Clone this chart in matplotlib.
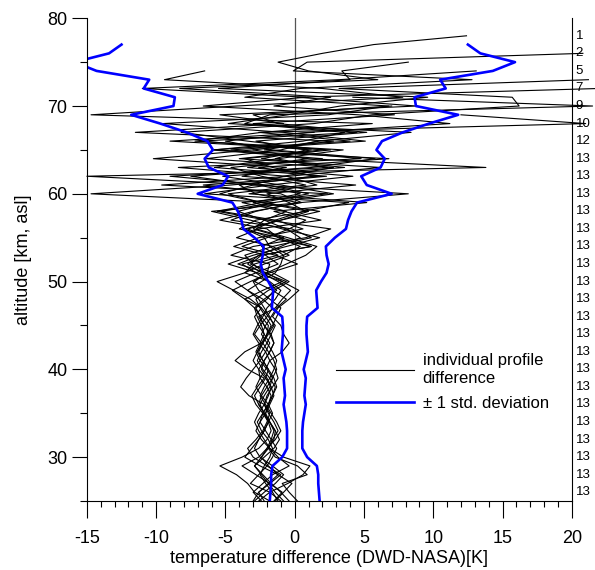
import matplotlib
matplotlib.use('Agg')
import matplotlib.pyplot as plt
from matplotlib.ticker import MultipleLocator
from matplotlib.transforms import blended_transform_factory
import numpy as np

plt.rcParams['font.family'] = ['Liberation Sans', 'DejaVu Sans']
plt.rcParams['axes.unicode_minus'] = False

# ---------------------------------------------------------------------
# Datos (altitud desde 25 km, paso de 1 km)
# ---------------------------------------------------------------------
alt_base = 25

# perfiles individuales DWD-NASA [K]
p01 = [-1.2, -1.6, -2.1, -2.5, -2.2, -1.8, -1.6, -1.9, -2.4, -2.7,
       -2.3, -1.9, -1.7, -2.0, -2.5, -2.6, -2.2, -1.8, -1.5, -1.7,
       -2.2, -2.6,
       -1.4, -0.9, -0.3, -1.2, -2.4, -3.4, -2.6, -1.0, 0.4, -0.6,
       -2.2, -4.1, -1.5,
       2.8, -1.0, -5.2, 3.6, -2.4, 1.2, -6.8, 4.5, -3.0, 7.2,
       -1.5, 2.6, -8.3, 6.0, 1.0, -1.2, 2.0, 5.7, 12.4]
p02 = [-0.4, -1.0, -1.7, -2.3, -2.9, -2.4, -1.9, -1.5, -1.4, -1.8,
       -2.2, -2.6, -2.4, -2.0, -1.6, -1.3, -1.5, -1.9, -2.3, -2.0,
       -1.6, -1.3,
       -1.0, -1.8, -2.6, -3.0, -2.0, -0.6, 0.8, 1.6, -0.5, -2.8,
       -1.4, 0.6, 3.9,
       -6.5, -1.8, 4.2, -3.4, 0.9, -4.6, 5.1, -0.8, -9.5, 2.4,
       6.8, -3.6, 0.4, 12.8, -0.1, 0.9, 20.8]
p03 = [-2.6, -1.8, -0.5, 0.6, 1.1, -0.8, -1.8, -2.4, -2.8, -2.5,
       -2.1, -1.8, -1.5, -1.7, -2.1, -2.6, -3.0, -2.7, -2.3, -2.0,
       -1.9, -2.4,
       -2.9, -3.6, -4.5, -3.2, -1.8, 0.2, -1.4, -3.8, -2.0, -0.4,
       0.8, -1.5, 5.2,
       -3.3, 1.6, -0.6, -8.4, 4.8, -2.2, 1.8, 8.4, -4.8, -0.5,
       3.3, 9.6, -5.5, 4.0, 3.4, 8.2]
p04 = [-1.8, -2.9, -3.4, -4.2, -5.4, -3.8, -2.6, -2.0, -1.7, -1.9,
       -2.3, -2.8, -3.1, -2.7, -2.2, -3.4, -4.3, -3.6, -2.4, -2.9,
       -2.5, -2.0,
       -1.6, -2.3, -3.4, -4.3, -2.8, -1.2, -2.1, -4.4, -2.6, 0.6,
       -1.4, -5.3, -1.4,
       -14.7, -4.6, 2.3, -5.8, -1.2, 3.5, -7.2, -2.4, 5.6, -14.7,
       -4.2, 7.8, 2.0, -9.4, -6.5]
p05 = [0.2, -0.4, -0.9, 0.9, 0.2, -1.4, -1.9, -1.6, -1.2, -1.5,
       -1.9, -2.2, -2.0, -1.6, -1.2, -1.4, -1.8, -0.9, -0.4, -0.8,
       -1.0, -1.6,
       -1.2, -0.4, 0.3, -0.9, -2.7, -4.8, -3.0, -0.6, 1.8, -0.9,
       -3.2, -6.0, 0.4,
       8.2, -2.9, -7.5, 1.2, 5.8, -1.6, -5.0, 1.0, 11.2, 4.6,
       -6.6, 0.8, -11.0, 3.2, 13.1]
p06 = [-2.2, -2.6, -1.8, -1.0, -2.0, -3.0, -3.4, -2.8, -2.3, -2.0,
       -1.8, -2.2, -3.3, -3.9, -3.5, -3.0, -2.5, -2.1, -1.8, -2.2,
       -2.6, -2.9,
       -2.4, -3.2, -4.4, -5.6, -3.6, -2.2, -0.4, -1.6, -4.2, -2.6,
       1.9, -0.8, -3.8,
       2.4, -9.6, -0.4, 6.2, -4.0, 2.0, -3.4, -8.2, 1.4, 5.6,
       16.2, 15.7, 3.2, 21.2]
p07 = [-1.0, -1.8, -3.2, -2.6, -2.0, -1.6, -1.3, -1.7, -2.1, -2.5,
       -2.3, -1.9, -1.6, -1.4, -1.8, -2.3, -2.7, -2.4, -2.0, -1.7,
       -1.4, -1.9,
       -2.4, -3.6, -2.3, -0.9, -2.0, -4.1, -2.5, 1.2, -1.0, -4.0,
       -2.8, 0.8, -0.4,
       -2.0, 4.4, -3.8, -0.6, -10.2, -3.0, 2.8, -11.5, -0.8, -5.4,
       8.8, 0.2, 22.0]
p08 = [-2.9, -2.2, -1.4, -0.8, -1.6, -2.5, -2.9, -2.6, -2.2, -1.9,
       -1.6, -1.9, -2.4, -2.8, -2.5, -2.1, -1.8, -2.1, -2.6, -3.0,
       -2.7, -2.3,
       -2.0, -1.4, -1.0, -1.8, -3.6, -2.9, -0.8, 0.4, -1.2, -2.0,
       -5.4, -3.0, 0.5,
       -1.0, -6.6, 1.8, -2.6, 6.8, -5.8, 0.6, 3.6, -3.6, -1.8,
       21.5, 4.2]
p09 = [-1.5, -0.9, -1.8, -2.8, -3.8, -2.6, -2.0, -1.4, -1.0, -1.3,
       -1.7, -2.1, -2.5, -2.2, -1.8, -1.5, -1.3, -1.6, -2.0, -2.4,
       -2.1, -1.7,
       -1.3, -0.6, -1.6, -2.9, -2.0, -1.8, -4.6, -3.0, 0.8, 2.6,
       -2.0, -5.6, -2.4,
       1.0, -2.0, -9.0, 2.4, -1.4, 0.8, -2.8, 5.2, -1.2, -3.0,
       7.0]
p10 = [-2.4, -3.0, -2.3, -1.6, -0.4, -1.2, -1.8, -2.2, -2.6, -2.9,
       -2.6, -2.2, -1.9, -1.7, -2.0, -2.4, -2.2, -1.8, -1.5, -1.8,
       -2.2, -2.5,
       -2.8, -2.0, -1.5, -0.4, -1.6, -3.2, -2.4, 1.2, -1.8, -3.4,
       -1.0, 1.8, -2.4,
       -4.8, 0.8, -2.4, -4.6, 2.0, -6.0, 4.0, -2.6, 21.0, 12.0]
p11 = [-3.0, -2.6, -1.9, -1.2, -1.9, -2.4, -2.0, -1.7, -1.5, -1.8,
       -2.2, -2.6, -2.9, -2.5, -2.1, -1.9, -2.3, -2.7, -2.4, -2.0,
       -1.7, -2.1,
       -2.5, -2.8, -1.9, -0.6, -2.2, -3.0, -3.6, -1.6, 1.2, -0.2,
       -4.6, -2.8, 0.2,
       -2.8, -4.0, 1.4, -1.6, -3.6, 2.6, -9.0, 1.4]
p12 = [-0.8, -1.4, -1.9, -2.4, -2.9, -2.2, -1.5, -1.1, -1.4, -1.8,
       -2.1, -1.9, -1.6, -1.3, -1.5, -1.9, -2.3, -2.6, -2.3, -1.9,
       -1.5, -1.8,
       -2.2, -2.6, -3.4, -2.4, -1.4, -1.0, -0.8, -1.8, -2.2, -3.6,
       -1.0, 1.0, -2.4,
       -5.4, -3.0, -0.8, 2.8, -6.4, -1.0, 1.6]
p13 = [-1.4, -0.8, -0.2, -1.2, -2.5, -3.6, -3.1, -2.6, -2.2, -1.9,
       -2.2, -2.5, -2.2, -1.8, -1.6, -2.0, -2.5, -2.8, -2.5, -2.2,
       -2.4, -2.7,
       -2.9, -2.2, -1.3, -1.9, -2.8, -3.8, -1.2, -2.4, -0.8, -3.0,
       -2.2, -0.6, -3.0,
       0.4, -2.6, -15.0, 13.8, 1.0, -3.0]
perfiles = [p01, p02, p03, p04, p05, p06, p07, p08, p09, p10, p11, p12, p13]

# desviacion estandar (25..77 km)
sigma = [1.8, 1.75, 1.7, 1.7, 1.6, 0.9, 0.55, 0.55, 0.55, 0.6,
         0.7, 0.8, 0.7, 0.75, 0.8, 0.65, 0.8, 0.95, 0.9, 0.85,
         0.85, 0.9, 1.65, 1.6, 1.55, 1.9, 2.3, 2.45, 2.3, 2.25,
         2.9, 3.7, 3.85, 4.1, 4.5, 7.0, 5.2, 4.8, 6.2, 6.5,
         5.9, 6.3, 7.8, 9.7, 11.8, 8.75, 8.65, 10.9, 10.5, 14.3,
         15.9, 13.4, 12.5]

# niveles donde se escribe el numero de perfiles
niveles_n = list(range(26, 79, 2))

# ---------------------------------------------------------------------
fig = plt.figure(figsize=(5.95, 5.7), dpi=100)
ax = fig.add_axes([0.146, 0.121, 0.815, 0.847])

for i, p in enumerate(perfiles):
    alt = alt_base + np.arange(len(p))
    ax.plot(p, alt, color='black', lw=0.8, clip_on=False,
            label='individual profile\ndifference' if i == 0 else None)

alt_s = alt_base + np.arange(len(sigma))
s = np.array(sigma)
ax.plot(s, alt_s, color='#0000ff', lw=1.9, label='± 1 std. deviation')
ax.plot(-s, alt_s, color='#0000ff', lw=1.9)

ax.axvline(0, color='#555555', lw=0.9, zorder=0)

ax.set_xlim(-15, 20)
ax.set_ylim(25, 80)
ax.spines['top'].set_visible(False)

ax.xaxis.set_major_locator(MultipleLocator(5))
ax.xaxis.set_minor_locator(MultipleLocator(1))
ax.yaxis.set_major_locator(MultipleLocator(10))
ax.yaxis.set_minor_locator(MultipleLocator(5))
ax.yaxis.set_major_formatter(lambda v, pos: '' if v < 30 else f'{v:.0f}')
ax.tick_params(axis='x', which='major', length=12, width=0.8, labelsize=13, pad=9)
ax.tick_params(axis='x', which='minor', length=4.5, width=0.8)
ax.tick_params(axis='y', which='major', length=11, width=0.8, labelsize=13, pad=3)
ax.tick_params(axis='y', which='minor', length=5, width=0.8)

ax.set_xlabel('temperature difference (DWD-NASA)[K]', fontsize=13, labelpad=2)
ax.set_ylabel('altitude [km, asl]', fontsize=13, labelpad=11)

# numero de perfiles en cada nivel
trans = blended_transform_factory(ax.transAxes, ax.transData)
for a in niveles_n:
    n = sum(1 for p in perfiles if alt_base + len(p) - 1 >= a)
    ax.text(1.008, a, str(n), transform=trans, fontsize=9.5,
            va='center', ha='left')

ax.legend(loc='upper left', bbox_to_anchor=(0.5, 0.32), frameon=False,
          fontsize=12, handlelength=4.7, handletextpad=0.5,
          labelspacing=0.6, borderaxespad=0)

fig.savefig('out.png', dpi=100)
